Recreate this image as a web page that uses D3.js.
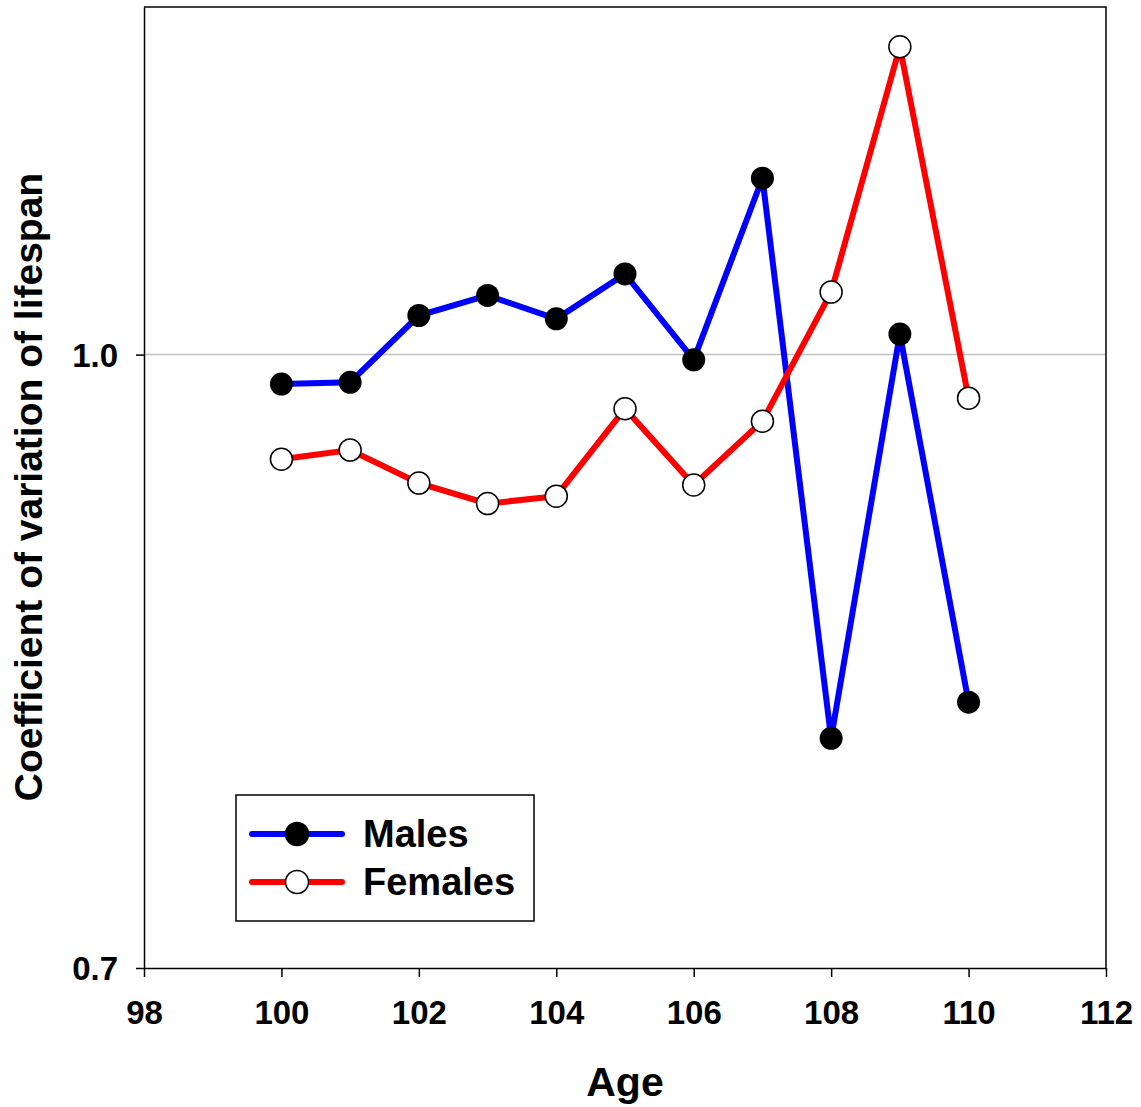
<!DOCTYPE html>
<meta charset="utf-8">
<style>
    body { margin: 0; background: #fff; }
    text { font-family: Arial, "Liberation Sans", sans-serif; font-weight: bold; fill: #000; }
</style>
<svg width="1141" height="1107"></svg>
<script src="https://d3js.org/d3.v7.min.js"></script>
<script>

// data
var ages = [100, 101, 102, 103, 104, 105, 106, 107, 108, 109, 110];
var males = [0.983, 0.984, 1.023, 1.035, 1.021, 1.048, 0.997, 1.108, 0.800, 1.012, 0.817];
var females = [0.941, 0.946, 0.928, 0.917, 0.921, 0.969, 0.927, 0.962, 1.037, 1.196, 0.975];
var xTicks = [98, 100, 102, 104, 106, 108, 110, 112];
var yTicks = [0.7, 1.0];

var svg = d3.select("svg"),
    margin = { top: 7, right: 35, bottom: 139, left: 144 },
    width = +svg.attr("width") - margin.left - margin.right,
    height = +svg.attr("height") - margin.top - margin.bottom,
    g = svg.append("g").attr("transform", "translate(" + margin.left + "," + margin.top + ")");

var x = d3.scaleLinear().domain([98, 112]).range([0, width]);
var y = d3.scaleLog().domain([0.7, 1.224]).range([height, 0]);

// reference line at 1.0
g.append("line")
    .attr("x1", 0).attr("x2", width)
    .attr("y1", y(1)).attr("y2", y(1))
    .attr("stroke", "#c0c0c0")
    .attr("stroke-width", 1.5);

// axes
var xAxis = g.append("g")
    .attr("transform", "translate(0," + height + ")")
    .call(d3.axisBottom(x).tickValues(xTicks).tickSize(9).tickSizeOuter(0)
        .tickPadding(24).tickFormat(d3.format("d")));
xAxis.selectAll("text").style("font-size", "33px");

var yAxis = g.append("g")
    .call(d3.axisLeft(y).tickValues(yTicks).tickSize(8).tickSizeOuter(0)
        .tickPadding(18).tickFormat(d3.format(".1f")));
yAxis.selectAll("text").style("font-size", "33px").attr("dy", "0.36em");

svg.selectAll(".domain").attr("stroke", "#000").attr("stroke-width", 1.5);
svg.selectAll(".tick line").attr("stroke", "#000").attr("stroke-width", 1.5);

// frame top & right
g.append("path")
    .attr("d", "M0,0H" + width + "V" + height)
    .attr("fill", "none")
    .attr("stroke", "#000")
    .attr("stroke-width", 1.5);

var line = d3.line()
    .x(function (d, i) { return x(ages[i]); })
    .y(function (d) { return y(d); });

g.append("path").datum(males)
    .attr("d", line).attr("fill", "none")
    .attr("stroke", "#0000ff").attr("stroke-width", 6);

g.append("path").datum(females)
    .attr("d", line).attr("fill", "none")
    .attr("stroke", "#ff0000").attr("stroke-width", 6);

g.selectAll(".m").data(males).enter().append("circle")
    .attr("cx", function (d, i) { return x(ages[i]); })
    .attr("cy", function (d) { return y(d); })
    .attr("r", 11.5)
    .attr("fill", "#000");

g.selectAll(".f").data(females).enter().append("circle")
    .attr("cx", function (d, i) { return x(ages[i]); })
    .attr("cy", function (d) { return y(d); })
    .attr("r", 11)
    .attr("fill", "#fff")
    .attr("stroke", "#000")
    .attr("stroke-width", 1.5);

// axis titles
svg.append("text")
    .attr("x", margin.left + width / 2)
    .attr("y", 1096)
    .attr("text-anchor", "middle")
    .style("font-size", "41px")
    .text("Age");

svg.append("text")
    .attr("transform", "translate(42," + 487 + ") rotate(-90)")
    .attr("text-anchor", "middle")
    .style("font-size", "39px")
    .text("Coefficient of variation of lifespan");

// legend
var lg = svg.append("g").attr("transform", "translate(236,795)");
lg.append("rect")
    .attr("width", 298).attr("height", 126)
    .attr("fill", "#fff").attr("stroke", "#000").attr("stroke-width", 1.5);

var items = [
    { name: "Males", color: "#0000ff", fill: "#000", dy: 39 },
    { name: "Females", color: "#ff0000", fill: "#fff", dy: 87 }
];
items.forEach(function (it) {
    lg.append("line")
        .attr("x1", 16).attr("x2", 106)
        .attr("y1", it.dy).attr("y2", it.dy)
        .attr("stroke", it.color).attr("stroke-width", 6)
        .attr("stroke-linecap", "round");
    lg.append("circle")
        .attr("cx", 61).attr("cy", it.dy).attr("r", 11.5)
        .attr("fill", it.fill).attr("stroke", "#000").attr("stroke-width", 1.5);
    lg.append("text")
        .attr("x", 127).attr("y", it.dy + 13)
        .style("font-size", "38px")
        .text(it.name);
});

</script>
